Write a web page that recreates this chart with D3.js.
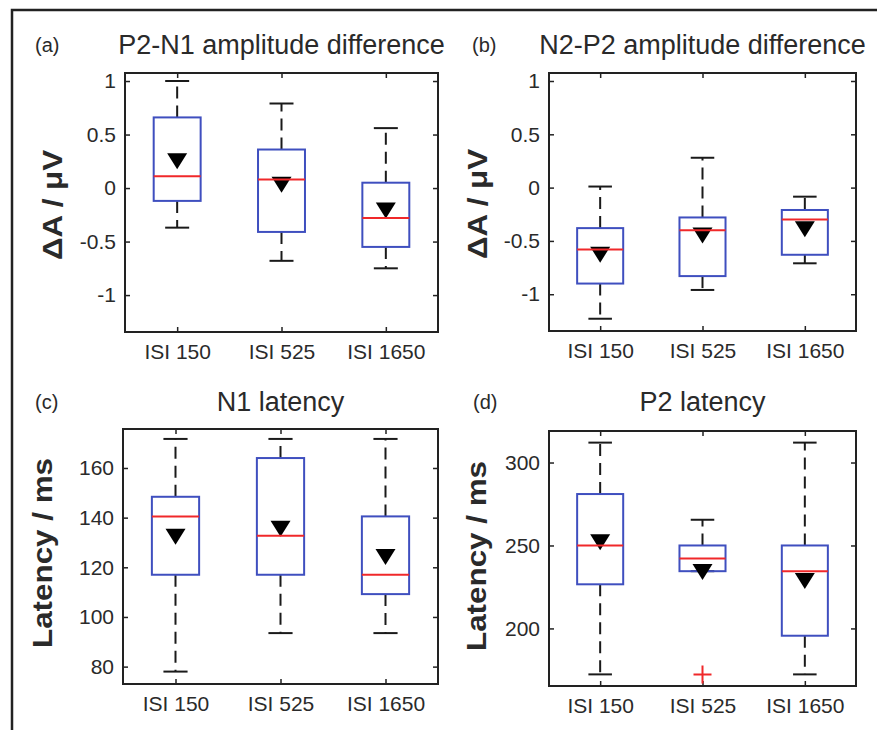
<!DOCTYPE html>
<head>
  <meta charset="utf-8">
  <script src="https://d3js.org/d3.v7.min.js"></script>
  <style>
    body {
      margin: 0;
      background: #fff;
      overflow: hidden;
    }
    svg text {
      font-family: "Liberation Sans", Arial, sans-serif;
      fill: #2a2a2a;
    }
  </style>
</head>
<body>
  <svg width="877" height="730"></svg>
  <script>
    // values
    const categories = ['ISI 150', 'ISI 525', 'ISI 1650'];

    // each row: [whiskerLow, q1, median, q3, whiskerHigh, mean]
    const p2n1Amp = [
      [-0.37, -0.12, 0.11, 0.66, 1.00, 0.25],
      [-0.68, -0.41, 0.08, 0.36, 0.79, 0.03],
      [-0.75, -0.55, -0.28, 0.05, 0.56, -0.21]
    ];
    const n2p2Amp = [
      [-1.23, -0.90, -0.58, -0.38, 0.01, -0.63],
      [-0.96, -0.83, -0.40, -0.28, 0.28, -0.45],
      [-0.71, -0.63, -0.30, -0.21, -0.085, -0.39]
    ];
    const n1Lat = [
      [78, 117, 140.5, 148.4, 171.7, 132.3],
      [93.5, 117, 132.7, 164, 171.7, 135.5],
      [93.5, 109.2, 117, 140.5, 171.7, 124.1]
    ];
    const p2Lat = [
      [172.3, 226.6, 250, 281, 312, 251.9],
      [234.5, 234.5, 242.2, 250, 265.5, 234],
      [172.3, 195.6, 234.5, 250, 312, 228.6]
    ];
    // [category index, value]
    const p2LatOutliers = [[1, 172.3]];

    const ampTicks = [-1, -0.5, 0, 0.5, 1];
    const n1Ticks = [80, 100, 120, 140, 160];
    const p2Ticks = [200, 250, 300];

    const ampDomain = [-1.345, 1.075];
    const n1Domain = [73, 175.7];
    const p2Domain = [165.3, 319];

    const svg = d3.select('svg');

    // outer frame (top and left edges only are visible)
    svg.append('path')
      .attr('d', 'M12,730L12,10L877,10')
      .attr('fill', 'none')
      .attr('stroke', '#222')
      .attr('stroke-width', 2.5);

    const panels = [
      { tag: '(a)', title: 'P2-N1 amplitude difference', ylab: 'ΔA / μV', ylabLen: 110,
        data: p2n1Amp, outliers: [], ticks: ampTicks, domain: ampDomain,
        x0: 125, x1: 438, y0: 73, y1: 332, tagX: 35, titleY: 54, ylabX: 62, ylabY: 205 },
      { tag: '(b)', title: 'N2-P2 amplitude difference', ylab: 'ΔA / μV', ylabLen: 110,
        data: n2p2Amp, outliers: [], ticks: ampTicks, domain: ampDomain,
        x0: 549, x1: 856, y0: 73, y1: 331, tagX: 472, titleY: 54, ylabX: 487, ylabY: 204 },
      { tag: '(c)', title: 'N1 latency', ylab: 'Latency / ms', ylabLen: 190,
        data: n1Lat, outliers: [], ticks: n1Ticks, domain: n1Domain,
        x0: 123, x1: 438, y0: 429, y1: 684, tagX: 35, titleY: 411, ylabX: 52, ylabY: 553 },
      { tag: '(d)', title: 'P2 latency', ylab: 'Latency / ms', ylabLen: 190,
        data: p2Lat, outliers: p2LatOutliers, ticks: p2Ticks, domain: p2Domain,
        x0: 549, x1: 856, y0: 431, y1: 686, tagX: 473, titleY: 411, ylabX: 486, ylabY: 556 }
    ];

    const boxW = 0.45, capW = 0.23;

    panels.forEach(p => {
      const w = p.x1 - p.x0, h = p.y1 - p.y0;
      const x = d3.scaleLinear().domain([0.5, 3.5]).range([0, w]);
      const y = d3.scaleLinear().domain(p.domain).range([h, 0]);

      const g = svg.append('g').attr('transform', `translate(${p.x0},${p.y0})`);

      // labels
      svg.append('text')
        .attr('x', p.tagX).attr('y', p.titleY - 2)
        .style('font-size', '20px')
        .text(p.tag);
      g.append('text')
        .attr('x', w / 2).attr('y', p.titleY - p.y0)
        .attr('text-anchor', 'middle')
        .style('font-size', '27px')
        .text(p.title);
      svg.append('text')
        .attr('transform', `translate(${p.ylabX},${p.ylabY}) rotate(-90)`)
        .attr('text-anchor', 'middle')
        .attr('textLength', p.ylabLen)
        .attr('lengthAdjust', 'spacingAndGlyphs')
        .style('font-size', '27px')
        .style('font-weight', 'bold')
        .text(p.ylab);

      // axes, ticks pointing inward on all four sides
      const fmt = d => String(d);
      const left = g.append('g')
        .call(d3.axisLeft(y).tickValues(p.ticks).tickFormat(fmt)
          .tickSizeInner(-5).tickSizeOuter(0).tickPadding(9));
      const right = g.append('g').attr('transform', `translate(${w},0)`)
        .call(d3.axisRight(y).tickValues(p.ticks).tickFormat('')
          .tickSizeInner(-5).tickSizeOuter(0));
      const bottom = g.append('g').attr('transform', `translate(0,${h})`)
        .call(d3.axisBottom(x).tickValues([1, 2, 3]).tickFormat(i => categories[i - 1])
          .tickSizeInner(-5).tickSizeOuter(0).tickPadding(12));
      const top = g.append('g')
        .call(d3.axisTop(x).tickValues([1, 2, 3]).tickFormat('')
          .tickSizeInner(-5).tickSizeOuter(0));
      [left, right, bottom, top].forEach(a => {
        a.select('.domain').remove();
        a.selectAll('.tick line').attr('stroke', '#222').attr('stroke-width', 1.5);
        a.selectAll('text').style('font-size', '21px').attr('fill', '#2a2a2a')
          .style('font-family', '"Liberation Sans", Arial, sans-serif');
      });

      g.append('rect')
        .attr('width', w).attr('height', h)
        .attr('fill', 'none')
        .attr('stroke', '#222')
        .attr('stroke-width', 2);

      const boxes = g.selectAll('.box').data(p.data).enter()
        .append('g').attr('class', 'box');

      // whiskers
      boxes.append('line')
        .attr('x1', (d, i) => x(i + 1)).attr('x2', (d, i) => x(i + 1))
        .attr('y1', d => y(d[3])).attr('y2', d => y(d[4]))
        .attr('stroke', '#1a1a1a').attr('stroke-width', 2)
        .attr('stroke-dasharray', '12,7');
      boxes.append('line')
        .attr('x1', (d, i) => x(i + 1)).attr('x2', (d, i) => x(i + 1))
        .attr('y1', d => y(d[1])).attr('y2', d => y(d[0]))
        .attr('stroke', '#1a1a1a').attr('stroke-width', 2)
        .attr('stroke-dasharray', '12,7');
      // caps
      [0, 4].forEach(k => {
        boxes.append('line')
          .attr('x1', (d, i) => x(i + 1 - capW / 2)).attr('x2', (d, i) => x(i + 1 + capW / 2))
          .attr('y1', d => y(d[k])).attr('y2', d => y(d[k]))
          .attr('stroke', '#1a1a1a').attr('stroke-width', 2);
      });
      // box
      boxes.append('rect')
        .attr('x', (d, i) => x(i + 1 - boxW / 2))
        .attr('width', x(1 + boxW) - x(1))
        .attr('y', d => y(d[3]))
        .attr('height', d => y(d[1]) - y(d[3]))
        .attr('fill', 'none')
        .attr('stroke', '#3f4fbf')
        .attr('stroke-width', 2);
      // mean marker
      boxes.append('path')
        .attr('d', (d, i) => {
          const cx = x(i + 1), cy = y(d[5]);
          return `M${cx - 10},${cy - 8}L${cx + 10},${cy - 8}L${cx},${cy + 8}Z`;
        })
        .attr('fill', '#000');
      // median
      boxes.append('line')
        .attr('x1', (d, i) => x(i + 1 - boxW / 2)).attr('x2', (d, i) => x(i + 1 + boxW / 2))
        .attr('y1', d => y(d[2])).attr('y2', d => y(d[2]))
        .attr('stroke', '#f0282a').attr('stroke-width', 2);

      // outliers
      g.selectAll('.outlier').data(p.outliers).enter()
        .append('path')
        .attr('class', 'outlier')
        .attr('d', d => {
          const cx = x(d[0] + 1), cy = y(d[1]);
          return `M${cx - 9},${cy}L${cx + 9},${cy}M${cx},${cy - 9}L${cx},${cy + 9}`;
        })
        .attr('stroke', '#f0282a')
        .attr('stroke-width', 2)
        .attr('fill', 'none');
    });
  </script>
</body>
